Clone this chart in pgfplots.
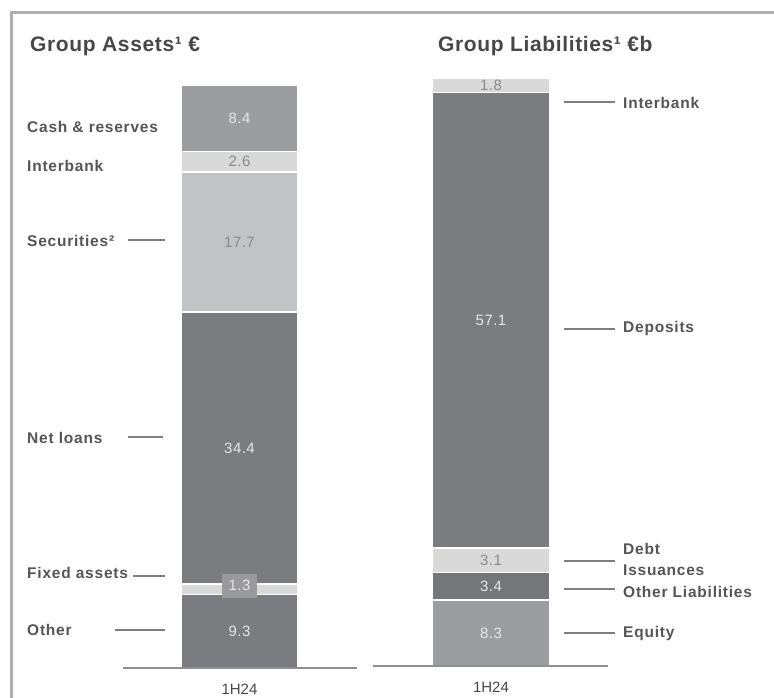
\documentclass[border=0pt]{standalone}
\usepackage{fontspec}
\setmainfont{Liberation Sans}
\newfontfamily\lblfont[LetterSpace=5]{Liberation Sans}
\newfontfamily\ttlfont[LetterSpace=3]{Liberation Sans}
\newfontfamily\valfont[LetterSpace=3]{Liberation Sans}
\usepackage{pgfplots}
\pgfplotsset{compat=1.18}

\definecolor{dk}{HTML}{7B7C80}
\definecolor{dkb}{HTML}{75767A}
\definecolor{md}{HTML}{9C9DA1}
\definecolor{sec}{HTML}{C2C3C5}
\definecolor{lt}{HTML}{D9D9D9}
\definecolor{boxc}{HTML}{9A9A9C}
\definecolor{vlight}{HTML}{E6E6E6}
\definecolor{vgray}{HTML}{8A8A8A}
\definecolor{txt}{HTML}{555555}
\definecolor{ttl}{HTML}{474747}
\definecolor{leader}{HTML}{7F7F7F}
\definecolor{basec}{HTML}{909090}
\definecolor{framec}{HTML}{B0B0B0}

\pgfplotsset{
  stackbar/.style={
    scale only axis, anchor=south west,
    ymin=0, ymax=73.7,
    ybar stacked, bar width=117pt,
    axis on top,
    axis x line*=bottom, axis y line=none,
    x axis line style={draw=basec, line width=2pt},
    xtick={0}, xticklabels={1H24}, major tick length=0pt,
    xticklabel style={font=\fontsize{15}{15}\selectfont, text=ttl, yshift=-12pt},
    ytick=\empty,
    every axis plot/.append style={draw=white, line width=1.5pt},
  },
  vallayer/.style={
    scale only axis, anchor=south west,
    ymin=0, ymax=73.7, hide axis, clip=false,
    nodes near coords, point meta=explicit symbolic,
    every node near coord/.style={anchor=center, font=\valfont\fontsize{15}{15}\selectfont},
  },
}

\newcommand{\lbl}{\lblfont\bfseries\fontsize{15.5}{15.5}\selectfont}

\begin{document}
\begin{tikzpicture}[x=1pt, y=1pt]
\useasboundingbox (0,0) rectangle (774,697);
\clip (0,0) rectangle (774,697);
\draw[framec, line width=3pt] (11,-20) -- (11,684) -- (800,684);

% titles
\node[anchor=base west, text=ttl, font=\ttlfont\bfseries\fontsize{21}{21}\selectfont, inner sep=0pt]
  at (30,645) {Group Assets¹ €};
\node[anchor=base west, text=ttl, font=\ttlfont\bfseries\fontsize{21}{21}\selectfont, inner sep=0pt]
  at (438,645) {Group Liabilities¹ €b};

% assets bar
\begin{axis}[stackbar, at={(123pt,29pt)}, width=234pt, height=583pt,
  xmin=-116.5, xmax=117.5]
\addplot[fill=dk]  coordinates {(0,9.3)};   % Other
\addplot[fill=lt]  coordinates {(0,1.3)};   % Fixed assets
\addplot[fill=dk]  coordinates {(0,34.4)};  % Net loans
\addplot[fill=sec] coordinates {(0,17.7)};  % Securities
\addplot[fill=lt]  coordinates {(0,2.6)};   % Interbank
\addplot[fill=md]  coordinates {(0,8.4)};   % Cash & reserves
\end{axis}
\begin{axis}[vallayer, at={(123pt,29pt)}, width=234pt, height=583pt,
  xmin=-116.5, xmax=117.5]
\addplot[draw=none, mark=none, every node near coord/.append style={text=vlight}]
  coordinates {(0,4.65)[9.3] (0,27.8)[34.4] (0,69.5)[8.4]};
\addplot[draw=none, mark=none, every node near coord/.append style={text=vgray}]
  coordinates {(0,53.85)[17.7] (0,64.0)[2.6]};
\addplot[draw=none, mark=none, every node near coord/.append style={text=vlight, fill=boxc,
  minimum width=35pt, minimum height=24pt, inner sep=0pt}]
  coordinates {(0,10.4)[1.3]};
\end{axis}

% liabilities bar
\begin{axis}[stackbar, at={(373pt,31pt)}, width=235pt, height=588pt,
  xmin=-118, xmax=117]
\addplot[fill=md]  coordinates {(0,8.3)};   % Equity
\addplot[fill=dkb] coordinates {(0,3.4)};   % Other Liabilities
\addplot[fill=lt]  coordinates {(0,3.1)};   % Debt Issuances
\addplot[fill=dk]  coordinates {(0,57.1)};  % Deposits
\addplot[fill=lt]  coordinates {(0,1.8)};   % Interbank
\end{axis}
\begin{axis}[vallayer, at={(373pt,31pt)}, width=235pt, height=588pt,
  xmin=-118, xmax=117]
\addplot[draw=none, mark=none, every node near coord/.append style={text=vlight}]
  coordinates {(0,4.15)[8.3] (0,10.0)[3.4] (0,43.35)[57.1]};
\addplot[draw=none, mark=none, every node near coord/.append style={text=vgray}]
  coordinates {(0,13.25)[3.1] (0,72.8)[1.8]};
\end{axis}

% category labels
\begin{scope}[every node/.style={anchor=base west, text=txt, font=\lbl, inner sep=0pt}]
\node at (27,564) {Cash \& reserves};
\node at (27,525) {Interbank};
\node at (27,450) {Securities²};
\node at (27,254) {Net loans};
\node at (27,119) {Fixed assets};
\node at (27,62)  {Other};
\node at (623,588) {Interbank};
\node at (623,364) {Deposits};
\node at (623,143) {Debt};
\node at (623,122) {Issuances};
\node at (623,100) {Other Liabilities};
\node at (623,60)  {Equity};
\end{scope}

% leader lines
\begin{scope}[leader, line width=2pt]
\draw (128,457) -- (165,457);
\draw (128,260) -- (163,260);
\draw (133,121) -- (165,121);
\draw (115,67)  -- (165,67);
\draw (564,595) -- (615,595);
\draw (564,368) -- (615,368);
\draw (564,136) -- (615,136);
\draw (564,108) -- (615,108);
\draw (564,64)  -- (615,64);
\end{scope}
\end{tikzpicture}
\end{document}
